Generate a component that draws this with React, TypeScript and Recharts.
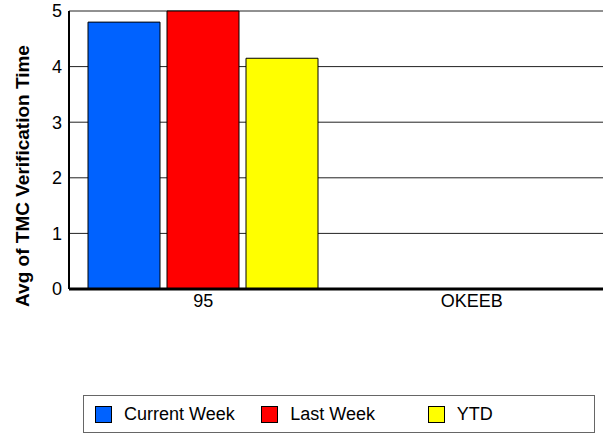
import React from 'react';
import { BarChart, Bar, XAxis, YAxis, CartesianGrid } from 'recharts';

const categories = ['95', 'OKEEB'];
const currentWeek = [4.8, 0];
const lastWeek = [5.0, 0];
const ytd = [4.15, 0];
const yTicks = [0, 1, 2, 3, 4, 5];

const seriesList = [
  { key: 'currentWeek', name: 'Current Week', color: '#0062FF' },
  { key: 'lastWeek', name: 'Last Week', color: '#FF0000' },
  { key: 'ytd', name: 'YTD', color: '#FFFF00' }
];

const data = categories.map((name, i) => ({
  name,
  currentWeek: currentWeek[i],
  lastWeek: lastWeek[i],
  ytd: ytd[i]
}));

const font = '"Liberation Sans", Arial, sans-serif';

const YLabel = () => (
  <text
    x={29}
    y={176}
    transform="rotate(-90 29 176)"
    textAnchor="middle"
    fontFamily={font}
    fontSize={19}
    fontWeight="bold"
    fill="#000"
  >
    Avg of TMC Verification Time
  </text>
);

const LegendBox = () => (
  <div
    style={{
      position: 'absolute',
      left: 83,
      top: 395,
      width: 512,
      height: 38,
      boxSizing: 'border-box',
      border: '1px solid #666',
      display: 'flex',
      alignItems: 'center',
      paddingLeft: 11,
      fontFamily: font,
      fontSize: 18,
      color: '#000'
    }}
  >
    {seriesList.map((s) => (
      <div key={s.key} style={{ width: 167, display: 'flex', alignItems: 'center' }}>
        <span
          style={{
            width: 17,
            height: 17,
            boxSizing: 'border-box',
            border: '1px solid #000',
            background: s.color,
            marginRight: 12
          }}
        />
        <span>{s.name}</span>
      </div>
    ))}
  </div>
);

export default function App() {
  return (
    <div
      style={{
        position: 'absolute',
        left: 0,
        top: 0,
        width: 603,
        height: 436,
        overflow: 'hidden',
        background: '#fff'
      }}
    >
      <BarChart
        width={620}
        height={330}
        data={data}
        margin={{ top: 11, right: 14, left: 0, bottom: 0 }}
        barSize={72}
        barGap={7}
      >
        <CartesianGrid vertical={false} stroke="#222" />
        <XAxis
          dataKey="name"
          height={41}
          axisLine={{ stroke: '#000', strokeWidth: 3 }}
          tickLine={false}
          tickSize={0}
          tickMargin={5}
          tick={{ fill: '#000', fontSize: 18, fontFamily: font }}
        />
        <YAxis
          width={69}
          domain={[0, 5]}
          ticks={yTicks}
          axisLine={{ stroke: '#000', strokeWidth: 2 }}
          tickLine={false}
          tickSize={0}
          tickMargin={7}
          tick={{ fill: '#000', fontSize: 18, fontFamily: font }}
          label={<YLabel />}
        />
        {seriesList.map((s) => (
          <Bar
            key={s.key}
            dataKey={s.key}
            name={s.name}
            fill={s.color}
            stroke="#000"
            strokeWidth={1}
            isAnimationActive={false}
          />
        ))}
      </BarChart>
      <LegendBox />
    </div>
  );
}
